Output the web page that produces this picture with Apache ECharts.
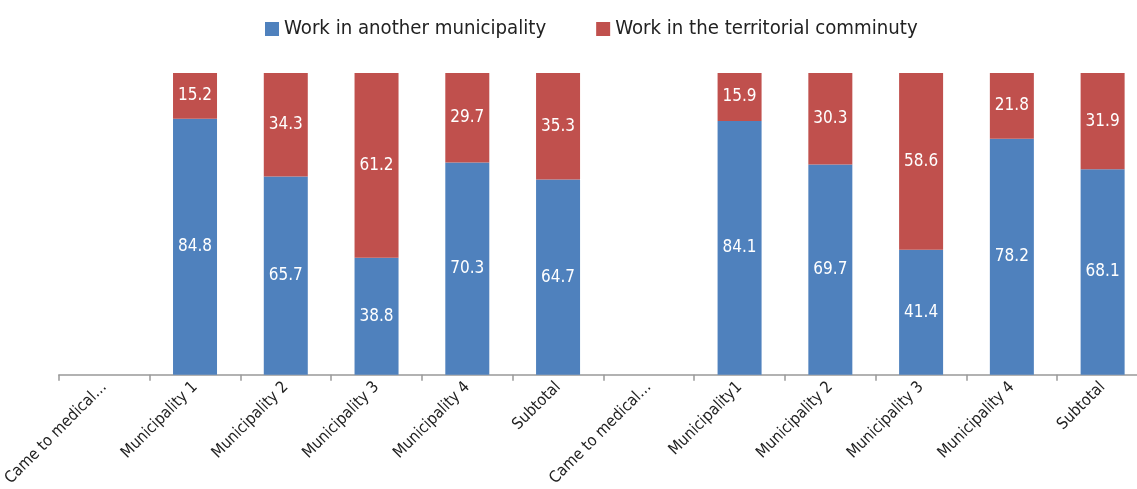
<!DOCTYPE html>
<html>
<head>
<meta charset="utf-8">
<script src="https://cdn.jsdelivr.net/npm/echarts@6/dist/echarts.min.js"></script>
<style>
  html, body { margin: 0; padding: 0; background: #fff; overflow: hidden; }
  /* the plot runs a little past the right edge of the window */
  #chart { width: 1148px; height: 489px; }
</style>
</head>
<body>
<div id="chart"></div>
<script>
// Category labels along the x axis (two groups of six)
const categories = [
  'Came to medical…', 'Municipality 1', 'Municipality 2', 'Municipality 3', 'Municipality 4', 'Subtotal',
  'Came to medical…', 'Municipality1', 'Municipality 2', 'Municipality 3', 'Municipality 4', 'Subtotal'
];
// Share (%) working in another municipality
const anotherMunicipality = [null, 84.8, 65.7, 38.8, 70.3, 64.7, null, 84.1, 69.7, 41.4, 78.2, 68.1];
// Share (%) working in the territorial community
const territorialCommunity = [null, 15.2, 34.3, 61.2, 29.7, 35.3, null, 15.9, 30.3, 58.6, 21.8, 31.9];

const seriesNames = ['Work in another municipality', 'Work in the territorial comminuty'];
const FONT = '"DejaVu Sans Condensed", "Liberation Sans Narrow", "Arial Narrow", sans-serif';

const chart = echarts.init(document.getElementById('chart'), null, { renderer: 'canvas' });

const labelStyle = {
  show: true,
  position: 'inside',
  color: '#ffffff',
  fontFamily: FONT,
  fontSize: 17,
  formatter: p => p.value == null ? '' : p.value.toFixed(1)
};

chart.setOption({
  animation: false,
  backgroundColor: '#ffffff',
  legend: {
    top: 14,
    left: 260,
    itemWidth: 14,
    itemHeight: 14,
    itemGap: 50,
    icon: 'rect',
    textStyle: { fontFamily: FONT, fontSize: 20.2, color: '#222222' },
    data: seriesNames
  },
  grid: { left: 58, right: 0, top: 73, height: 302, containLabel: false },
  xAxis: {
    type: 'category',
    data: categories,
    axisLine: { lineStyle: { color: '#999999', width: 1.5 } },
    axisTick: { show: true, alignWithLabel: false, length: 6, lineStyle: { color: '#999999', width: 1.5 } },
    axisLabel: {
      interval: 0,
      rotate: 45,
      margin: 10,
      fontFamily: FONT,
      fontSize: 16,
      color: '#222222'
    }
  },
  yAxis: {
    type: 'value',
    min: 0,
    max: 100,
    show: false
  },
  series: [
    {
      name: seriesNames[0],
      type: 'bar',
      stack: 'total',
      barWidth: 44,
      data: anotherMunicipality,
      itemStyle: { color: '#4F81BD' },
      label: labelStyle
    },
    {
      name: seriesNames[1],
      type: 'bar',
      stack: 'total',
      barWidth: 44,
      data: territorialCommunity,
      itemStyle: { color: '#C0504D' },
      label: labelStyle
    }
  ]
});
</script>
</body>
</html>
